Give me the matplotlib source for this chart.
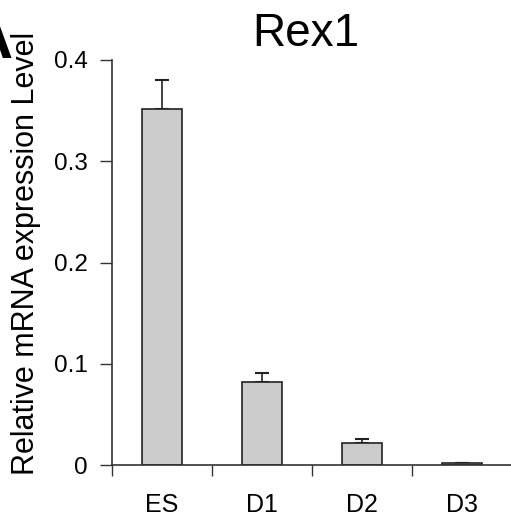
import numpy as np
import matplotlib
matplotlib.use("Agg")
import matplotlib.pyplot as plt

# ---------------------------------------------------------
# DATA
# ---------------------------------------------------------
categories = ["ES", "D1", "D2", "D3"]
expression = [0.352, 0.082, 0.0215, 0.0016]
errors = [0.028, 0.009, 0.004, 0.0004]
y_ticks = [0, 0.1, 0.2, 0.3, 0.4]
y_tick_labels = ["0", "0.1", "0.2", "0.3", "0.4"]

plt.rcParams["font.family"] = ["Liberation Sans", "DejaVu Sans"]

fig = plt.figure(figsize=(5.11, 5.17), dpi=100)
ax = fig.add_axes([112 / 511, 1 - 465 / 517, 1 - 112 / 511, (465 - 60) / 517])

x = np.arange(len(categories)) + 0.5
ax.bar(x, expression, width=0.4, color="#cbcbcb", edgecolor="#222222", linewidth=1.2, zorder=2)
ax.errorbar(x, expression, yerr=[np.zeros(len(errors)), errors], fmt="none",
            ecolor="#222222", elinewidth=1.2, capsize=5, capthick=1.5, zorder=1)

ax.set_xlim(0, 3.995)
ax.set_ylim(0, 0.4)

# y axis
ax.set_yticks(y_ticks)
ax.set_yticklabels(y_tick_labels, fontsize=17.5)
ax.tick_params(axis="y", direction="out", length=9, width=1, color="#333333", pad=8.5)

# x axis: ticks at category boundaries, labels at centres
ax.set_xticks(np.arange(len(categories)))
ax.set_xticklabels([])
ax.set_xticks(x, minor=True)
ax.set_xticklabels(categories, minor=True, fontsize=18)
ax.tick_params(axis="x", which="major", direction="out", length=8, width=1, color="#333333")
ax.tick_params(axis="x", which="minor", length=0, pad=20)

for side in ["top", "right"]:
    ax.spines[side].set_visible(False)
for side in ["left", "bottom"]:
    ax.spines[side].set_color("#333333")
    ax.spines[side].set_linewidth(1.2)

fig.text(306 / 511, 1 - 46 / 517, "Rex1", fontsize=33, ha="center", va="baseline")
fig.text(26 / 511, 1 - 253 / 517, "Relative mRNA expression Level", fontsize=22,
         rotation=90, ha="center", va="center")
fig.text(13 / 511, 1 - 58 / 517, "A", fontsize=44, fontweight="bold", ha="right", va="baseline")

fig.savefig("out.png", dpi=100)
